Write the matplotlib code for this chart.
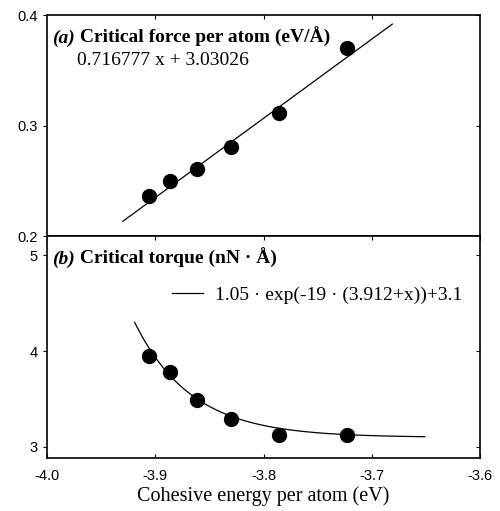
import numpy as np
import matplotlib.pyplot as plt

plt.rcParams['axes.unicode_minus'] = False

# data
energy = [-3.906, -3.886, -3.861, -3.830, -3.786, -3.723]
force = [0.236, 0.250, 0.261, 0.281, 0.311, 0.370]
torque = [3.95, 3.78, 3.49, 3.29, 3.13, 3.12]

fit_a = (0.716777, 3.03026)
fit_a_range = (-3.930, -3.681)
fit_b_range = (-3.919, -3.651)

xticks = [-4.0, -3.9, -3.8, -3.7, -3.6]
yticks_a = [0.2, 0.3, 0.4]
yticks_b = [3, 4, 5]

serif = 'Liberation Serif'
sans = 'Liberation Sans'

fig = plt.figure(figsize=(5, 5.11), dpi=100)
ax1 = fig.add_axes([0.094, 0.538, 0.866, 0.4326])
ax2 = fig.add_axes([0.094, 0.1037, 0.866, 0.4343])

# (a) force
xa = np.linspace(*fit_a_range, 50)
ax1.plot(xa, fit_a[0] * xa + fit_a[1], color='black', lw=0.9)
ax1.plot(energy, force, 'o', color='black', ms=10)
ax1.set_xlim(-4.0, -3.6)
ax1.set_ylim(0.2, 0.4)
ax1.set_yticks(yticks_a)
ax1.set_yticklabels(['%.1f' % v for v in yticks_a], fontname=sans, fontsize=10.5)
ax1.set_xticks(xticks[1:-1])
ax1.tick_params(axis='x', labelbottom=False, bottom=False, direction='in',
                top=True, length=3)
ax1.tick_params(axis='y', direction='out', length=3)
ax1.tick_params(axis='y', which='both', right=True)
for tk in ax1.yaxis.get_major_ticks():
    tk.tick2line.set_marker(0)  # right ticks point inward

t = ax1.text(0.012, 0.874, '(a)', transform=ax1.transAxes, fontname=serif,
             fontsize=14, fontweight='bold', fontstyle='italic', va='baseline')
ax1.annotate(' Critical force per atom (eV/Å)', xy=(1, 0), xycoords=t,
             fontname=serif, fontsize=14, fontweight='bold', va='bottom')
ax1.text(0.069, 0.772, '0.716777 x + 3.03026', transform=ax1.transAxes,
         fontname=serif, fontsize=14, va='baseline')

# (b) torque
xb = np.linspace(*fit_b_range, 80)
ax2.plot(xb, 1.05 * np.exp(-19 * (3.912 + xb)) + 3.1, color='black', lw=0.9,
         label='1.05 · exp(-19 · (3.912+x))+3.1')
ax2.plot(energy, torque, 'o', color='black', ms=10)
ax2.set_xlim(-4.0, -3.6)
ax2.set_ylim(2.885, 5.2)
ax2.set_yticks(yticks_b)
ax2.set_yticklabels([str(v) for v in yticks_b], fontname=sans, fontsize=10.5)
ax2.set_xticks(xticks)
ax2.set_xticklabels(['%.1f' % v for v in xticks], fontname=sans, fontsize=10.5)
ax2.tick_params(axis='y', direction='out', length=3, right=True)
for tk in ax2.yaxis.get_major_ticks():
    tk.tick2line.set_marker(0)
ax2.tick_params(axis='x', direction='in', length=3, top=True, pad=8)
ax2.set_xlabel('Cohesive energy per atom (eV)', fontname=serif, fontsize=14.5,
               labelpad=2)

t = ax2.text(0.012, 0.874, '(b)', transform=ax2.transAxes, fontname=serif,
             fontsize=14, fontweight='bold', fontstyle='italic', va='baseline')
ax2.annotate(' Critical torque (nN · Å)', xy=(1, 0), xycoords=t,
             fontname=serif, fontsize=14, fontweight='bold', va='bottom')
ax2.legend(loc='center left', bbox_to_anchor=(0.289, 0.735), frameon=False,
           prop={'family': serif, 'size': 14}, handlelength=1.6,
           handletextpad=0.6, borderpad=0, borderaxespad=0)

for ax in (ax1, ax2):
    for s in ax.spines.values():
        s.set_linewidth(1.2)

fig.savefig('out.png', dpi=100)
